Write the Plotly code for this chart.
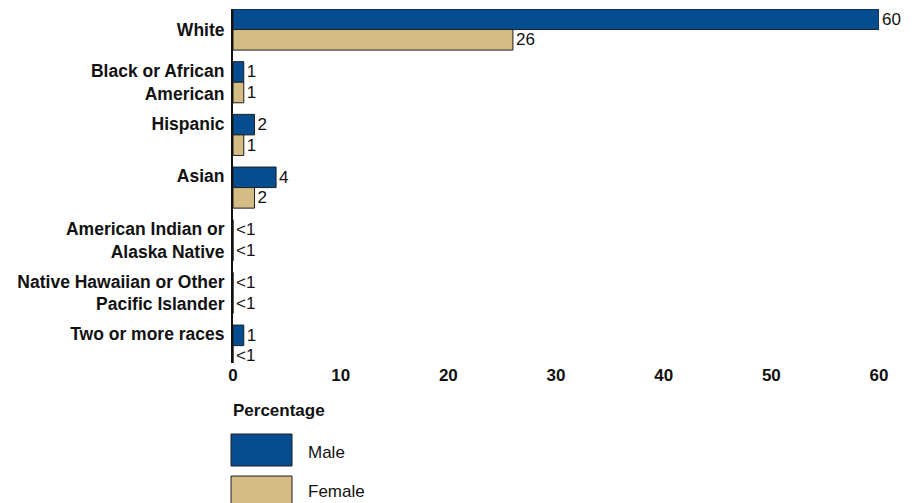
import plotly.graph_objects as go

categories = ["White", "Black or African<br>American", "Hispanic<br> ", "Asian<br> ",
              "American Indian or<br>Alaska Native",
              "Native Hawaiian or Other<br>Pacific Islander", "Two or more races<br> "]
male = [60, 1, 2, 4, 0, 0, 1]
female = [26, 1, 1, 2, 0, 0, 0]
male_labels = ["60", "1", "2", "4", "<1", "<1", "1"]
female_labels = ["26", "1", "1", "2", "<1", "<1", "<1"]
x_ticks = [0, 10, 20, 30, 40, 50, 60]

MALE_C = "#054D8F"
FEMALE_C = "#D5BC85"
EDGE = "#1e1e1e"
FONT = "Liberation Sans, Arial, sans-serif"
TXT = "#111"

fig = go.Figure()
fig.add_trace(go.Bar(y=categories, x=male, orientation="h", name="Male",
                     marker=dict(color=MALE_C, line=dict(color=EDGE, width=1)),
                     text=male_labels, textposition="outside", cliponaxis=False,
                     textfont=dict(family=FONT, size=17, color=TXT)))
fig.add_trace(go.Bar(y=categories, x=female, orientation="h", name="Female",
                     marker=dict(color=FEMALE_C, line=dict(color=EDGE, width=1)),
                     text=female_labels, textposition="outside", cliponaxis=False,
                     textfont=dict(family=FONT, size=17, color=TXT)))

L, R, T, B = 233, 39, 9, 140
W, H = 918, 503
ph = H - T - B
pw = W - L - R

def px_x(x):
    return (x - L) / pw

def px_y(y):
    return (H - B - y) / ph

shapes = [
    dict(type="rect", xref="paper", yref="paper", x0=px_x(231), x1=px_x(292),
         y0=px_y(466), y1=px_y(434), fillcolor=MALE_C, line=dict(color=EDGE, width=1)),
    dict(type="rect", xref="paper", yref="paper", x0=px_x(231), x1=px_x(292),
         y0=px_y(508), y1=px_y(476), fillcolor=FEMALE_C, line=dict(color=EDGE, width=1)),
]
annotations = [
    dict(text="Male", xref="paper", yref="paper", x=px_x(306), y=px_y(452),
         xanchor="left", yanchor="middle", showarrow=False,
         font=dict(family=FONT, size=17, color=TXT)),
    dict(text="Female", xref="paper", yref="paper", x=px_x(306), y=px_y(491),
         xanchor="left", yanchor="middle", showarrow=False,
         font=dict(family=FONT, size=17, color=TXT)),
    dict(text="<b>Percentage</b>", xref="paper", yref="paper", x=px_x(231), y=px_y(410),
         xanchor="left", yanchor="middle", showarrow=False,
         font=dict(family=FONT, size=17, color=TXT)),
]

fig.update_layout(
    width=W, height=H,
    margin=dict(l=L, r=R, t=T, b=B),
    paper_bgcolor="white", plot_bgcolor="white",
    barmode="group", bargap=0.22, bargroupgap=0,
    showlegend=False,
    shapes=shapes, annotations=annotations,
    font=dict(family=FONT, size=17, color=TXT),
    xaxis=dict(range=[0, 60], tickvals=x_ticks, showgrid=False, zeroline=False,
               showline=False, ticks="", tickfont=dict(family=FONT, size=17, color=TXT,
               weight="bold")),
    yaxis=dict(range=[6.33, -0.39], showgrid=False, zeroline=False, showline=True,
               linecolor=TXT, linewidth=2, ticks="", ticklabelstandoff=3,
               tickfont=dict(family=FONT, size=17.5, color=TXT, weight="bold")),
)

fig.write_html("out.html", config={"displayModeBar": False},
               post_script="document.body.style.margin='0';document.body.style.overflow='hidden';")
